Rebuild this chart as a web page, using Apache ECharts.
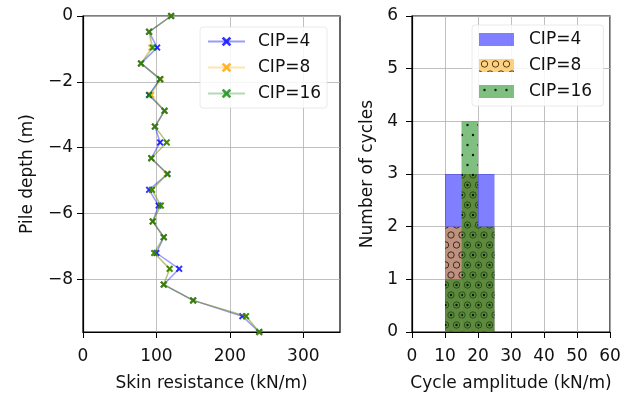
<!DOCTYPE html>
<html>
<head>
<meta charset="utf-8">
<script src="https://cdn.jsdelivr.net/npm/echarts@6/dist/echarts.min.js"></script>
<style>html,body{margin:0;padding:0;background:#fff}#c{width:628px;height:396px}</style>
</head>
<body>
<div id="c"></div>
<script>
// ---- Data ----
const depth = [0,-0.48,-0.96,-1.44,-1.92,-2.40,-2.88,-3.36,-3.84,-4.32,-4.80,-5.28,-5.76,-6.24,-6.72,-7.20,-7.68,-8.16,-8.64,-9.12,-9.60];
const cip4Res  = [120,90,101,79,105,90,111,98,105,93,115,90,103,95,110,100,131,110,150,217,240];
const cip8Res  = [120,90,93,79,106,93,111,98,114,93,114,94,106,95,110,97,118,110,150,222,240];
const cip16Res = [120,90,95,79,105,90,111,98,114,93,115,94,106,95,110,97,118,110,150,222,240];
const seriesNames = ['CIP=4','CIP=8','CIP=16'];

const binEdges = [10,15,20,25];
const cip4Counts  = [3,3,3];
const cip8Counts  = [2,3,2];
const cip16Counts = [1,4,2];

const leftXTicks = [0,100,200,300];
const leftYTicks = [-8,-6,-4,-2,0];

// ---- helpers ----
function pairs(xs){ return xs.map((v,i)=>[v, depth[i]]); }
function bins(counts){ return counts.map((c,i)=>[binEdges[i], binEdges[i+1], c]); }

function makePattern(bg, kind){
  const W = 11, H = 20;
  const cv = document.createElement('canvas');
  cv.width = W; cv.height = H;
  const ctx = cv.getContext('2d');
  ctx.fillStyle = bg; ctx.fillRect(0,0,W,H);
  const centers = [[W/2,5],[0,15],[W,15]];
  centers.forEach(([x,y])=>{
    ctx.beginPath();
    if (kind === 'ring') {
      ctx.arc(x,y,3.2,0,Math.PI*2);
      ctx.strokeStyle = 'rgba(20,10,0,0.75)'; ctx.lineWidth = 1; ctx.stroke();
    } else {
      ctx.arc(x,y,1.2,0,Math.PI*2);
      ctx.fillStyle = 'rgba(0,0,0,0.85)'; ctx.fill();
    }
  });
  return {image: cv, repeat: 'repeat'};
}
const orangeFill = makePattern('rgba(255,165,0,0.5)','ring');
const greenFill  = makePattern('rgba(0,128,0,0.5)','dot');
const blueFill   = 'rgba(0,0,255,0.5)';

const xSym = 'path://M0,2 L2,0 L5,3 L8,0 L10,2 L7,5 L10,8 L8,10 L5,7 L2,10 L0,8 L3,5 Z';
const lineColors = ['#0000ff','#ffa500','#008000'];

const font = 'DejaVu Sans';
const txt = {color:'#111', fontFamily: font, fontSize: 17};
const fmtMinus = v => (v < 0 ? '\u2212' + Math.abs(v) : String(v));

function histItem(params, api){
  const p0 = api.coord([api.value(0), api.value(2)]);
  const p1 = api.coord([api.value(1), 0]);
  return {type:'rect', shape:{x:p0[0], y:p0[1], width:p1[0]-p0[0], height:p1[1]-p0[1]}, style: api.style()};
}

const axisCommon = {
  axisLine:{show:true, onZero:false, lineStyle:{color:'#000', width:1.2}},
  axisTick:{show:true, length:6, lineStyle:{color:'#000', width:1}},
  splitLine:{show:true, lineStyle:{color:'#b0b0b0', width:0.8}},
  nameTextStyle: txt,
  nameLocation:'middle'
};

const chart = echarts.init(document.getElementById('c'));
chart.setOption({
  animation:false,
  backgroundColor:'#fff',
  grid:[
    {left:83, right:288, top:16, bottom:64, show:true, borderColor:'#000', borderWidth:1.2, containLabel:false, outerBoundsMode:'none'},
    {left:412, right:18, top:16, bottom:64, show:true, borderColor:'#000', borderWidth:1.2, containLabel:false, outerBoundsMode:'none'}
  ],
  xAxis:[
    Object.assign({}, axisCommon, {
      type:'value', gridIndex:0, min:0, max:350, splitNumber:4,
      name:'Skin resistance (kN/m)', nameGap:43,
      axisTick:Object.assign({}, axisCommon.axisTick, {customValues:leftXTicks}),
      axisLabel:Object.assign({}, txt, {margin:16, customValues:leftXTicks})
    }),
    Object.assign({}, axisCommon, {
      type:'value', gridIndex:1, min:0, max:60, interval:10,
      name:'Cycle amplitude (kN/m)', nameGap:43,
      axisLabel:Object.assign({}, txt, {margin:16, showMaxLabel:true})
    })
  ],
  yAxis:[
    Object.assign({}, axisCommon, {
      type:'value', gridIndex:0, min:-9.6, max:0, splitNumber:5,
      name:'Pile depth (m)', nameGap:47,
      axisTick:Object.assign({}, axisCommon.axisTick, {customValues:leftYTicks}),
      axisLabel:Object.assign({}, txt, {margin:10, customValues:leftYTicks, formatter:fmtMinus})
    }),
    Object.assign({}, axisCommon, {
      type:'value', gridIndex:1, min:0, max:6, interval:1,
      name:'Number of cycles', nameGap:36,
      axisLabel:Object.assign({}, txt, {margin:14})
    })
  ],
  legend:[
    {
      data: seriesNames.map(n=>({name:n})),
      orient:'vertical', left:200, top:27, itemWidth:37, itemHeight:12, itemGap:7,
      padding:[5,6,5,7],
      backgroundColor:'rgba(255,255,255,0.85)', borderColor:'rgba(220,220,220,0.6)', borderWidth:1, borderRadius:3,
      textStyle:Object.assign({}, txt, {padding:[0,0,0,8], lineHeight:19}),
      selectedMode:false
    },
    {
      data: seriesNames.map(n=>({name:n+' ', icon:'rect'})),
      orient:'vertical', left:472, top:25, itemWidth:35, itemHeight:13, itemGap:7,
      padding:[5,6,5,7],
      backgroundColor:'rgba(255,255,255,0.85)', borderColor:'rgba(220,220,220,0.6)', borderWidth:1, borderRadius:3,
      textStyle:Object.assign({}, txt, {padding:[0,0,0,10], lineHeight:19}),
      selectedMode:false
    }
  ],
  series:[
    {name:seriesNames[0], type:'line', xAxisIndex:0, yAxisIndex:0, data:pairs(cip4Res), z:3,
     symbol:xSym, symbolSize:7, lineStyle:{color:lineColors[0], width:1.5, opacity:0.4},
     itemStyle:{color:lineColors[0], opacity:0.8}},
    {name:seriesNames[1], type:'line', xAxisIndex:0, yAxisIndex:0, data:pairs(cip8Res), z:4,
     symbol:xSym, symbolSize:7, lineStyle:{color:lineColors[1], width:1.5, opacity:0.3},
     itemStyle:{color:lineColors[1], opacity:0.8}},
    {name:seriesNames[2], type:'line', xAxisIndex:0, yAxisIndex:0, data:pairs(cip16Res), z:5,
     symbol:xSym, symbolSize:7, lineStyle:{color:lineColors[2], width:1.5, opacity:0.3},
     itemStyle:{color:lineColors[2], opacity:0.75}},
    {name:seriesNames[0]+' ', type:'custom', xAxisIndex:1, yAxisIndex:1, data:bins(cip4Counts),
     encode:{x:[0,1], y:2}, renderItem:histItem, itemStyle:{color:blueFill}},
    {name:seriesNames[1]+' ', type:'custom', xAxisIndex:1, yAxisIndex:1, data:bins(cip8Counts),
     encode:{x:[0,1], y:2}, renderItem:histItem, itemStyle:{color:orangeFill}},
    {name:seriesNames[2]+' ', type:'custom', xAxisIndex:1, yAxisIndex:1, data:bins(cip16Counts),
     encode:{x:[0,1], y:2}, renderItem:histItem, itemStyle:{color:greenFill}}
  ]
});
</script>
</body>
</html>
